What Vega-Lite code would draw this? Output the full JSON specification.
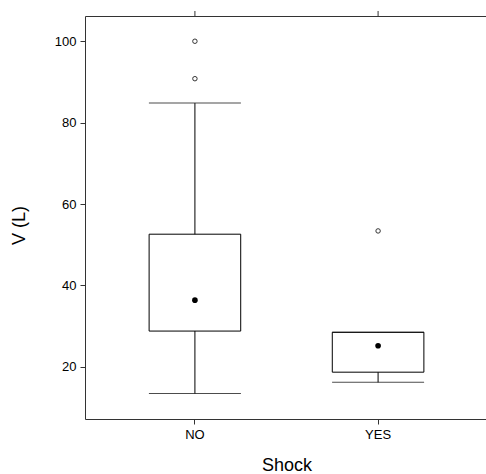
{
  "$schema": "https://vega.github.io/schema/vega-lite/v6.json",
  "autosize": "none",
  "padding": {"left": 85, "top": 16, "right": 0, "bottom": 55},
  "width": 403,
  "height": 403,
  "background": "white",
  "config": {
    "font": "Liberation Sans",
    "view": {"stroke": "#333333", "strokeWidth": 1},
    "axis": {"domain": false, "grid": false, "tickColor": "#333333", "tickSize": 5, "labelColor": "#000000", "labelFontSize": 13, "titleFontSize": 18, "titleFontWeight": "normal", "titleColor": "#000000", "labelFont": "Liberation Sans", "titleFont": "Liberation Sans"}
  },
  "datasets": {
    "stats": [
      {"Shock": "NO", "lower": 13.45, "q1": 28.8, "median": 36.4, "q3": 52.6, "upper": 84.8},
      {"Shock": "YES", "lower": 16.2, "q1": 18.7, "median": 25.2, "q3": 28.5, "upper": 28.5}
    ],
    "outliers": [
      {"Shock": "NO", "V": 100.0},
      {"Shock": "NO", "V": 90.8},
      {"Shock": "YES", "V": 53.4}
    ]
  },
  "layer": [
    {
      "data": {"name": "stats"},
      "mark": {"type": "rule", "color": "#000000", "strokeWidth": 1},
      "encoding": {
        "x": {
          "field": "Shock", "type": "nominal",
          "scale": {"domain": ["NO", "YES"], "paddingInner": 0.5, "paddingOuter": 0.35},
          "axis": {"orient": "bottom", "title": "Shock", "labelAngle": 0, "labelPadding": 4, "titlePadding": 15}
        },
        "y": {"field": "lower", "type": "quantitative", "scale": {"domain": [7.2, 106.2], "nice": false, "zero": false},
          "axis": {"title": "V (L)", "values": [20, 40, 60, 80, 100], "labelPadding": 4, "titlePadding": 26, "titleY": 209}},
        "y2": {"field": "upper"}
      }
    },
    {
      "data": {"name": "stats"},
      "mark": {"type": "rect", "fill": "white", "stroke": "#000000", "strokeWidth": 1},
      "encoding": {
        "x": {"field": "Shock", "type": "nominal"},
        "y": {"field": "q1", "type": "quantitative"},
        "y2": {"field": "q3"}
      }
    },
    {
      "data": {"name": "stats"},
      "mark": {"type": "tick", "orient": "horizontal", "color": "#000000", "size": 92, "thickness": 1},
      "encoding": {"x": {"field": "Shock", "type": "nominal"}, "y": {"field": "lower", "type": "quantitative"}}
    },
    {
      "data": {"name": "stats"},
      "mark": {"type": "tick", "orient": "horizontal", "color": "#000000", "size": 92, "thickness": 1},
      "encoding": {"x": {"field": "Shock", "type": "nominal"}, "y": {"field": "upper", "type": "quantitative"}}
    },
    {
      "data": {"name": "stats"},
      "mark": {"type": "point", "filled": true, "color": "#000000", "size": 32, "opacity": 1},
      "encoding": {"x": {"field": "Shock", "type": "nominal"}, "y": {"field": "median", "type": "quantitative"}}
    },
    {
      "data": {"name": "outliers"},
      "mark": {"type": "point", "filled": false, "color": "#333333", "size": 20, "strokeWidth": 1, "opacity": 1},
      "encoding": {"x": {"field": "Shock", "type": "nominal"}, "y": {"field": "V", "type": "quantitative"}}
    },
    {
      "data": {"name": "stats"},
      "mark": {"type": "rule", "clip": false, "color": "#333333", "strokeWidth": 1},
      "encoding": {
        "x": {"field": "Shock", "type": "nominal"},
        "y": {"datum": 106.2},
        "y2": {"datum": 107.43}
      }
    }
  ]
}
